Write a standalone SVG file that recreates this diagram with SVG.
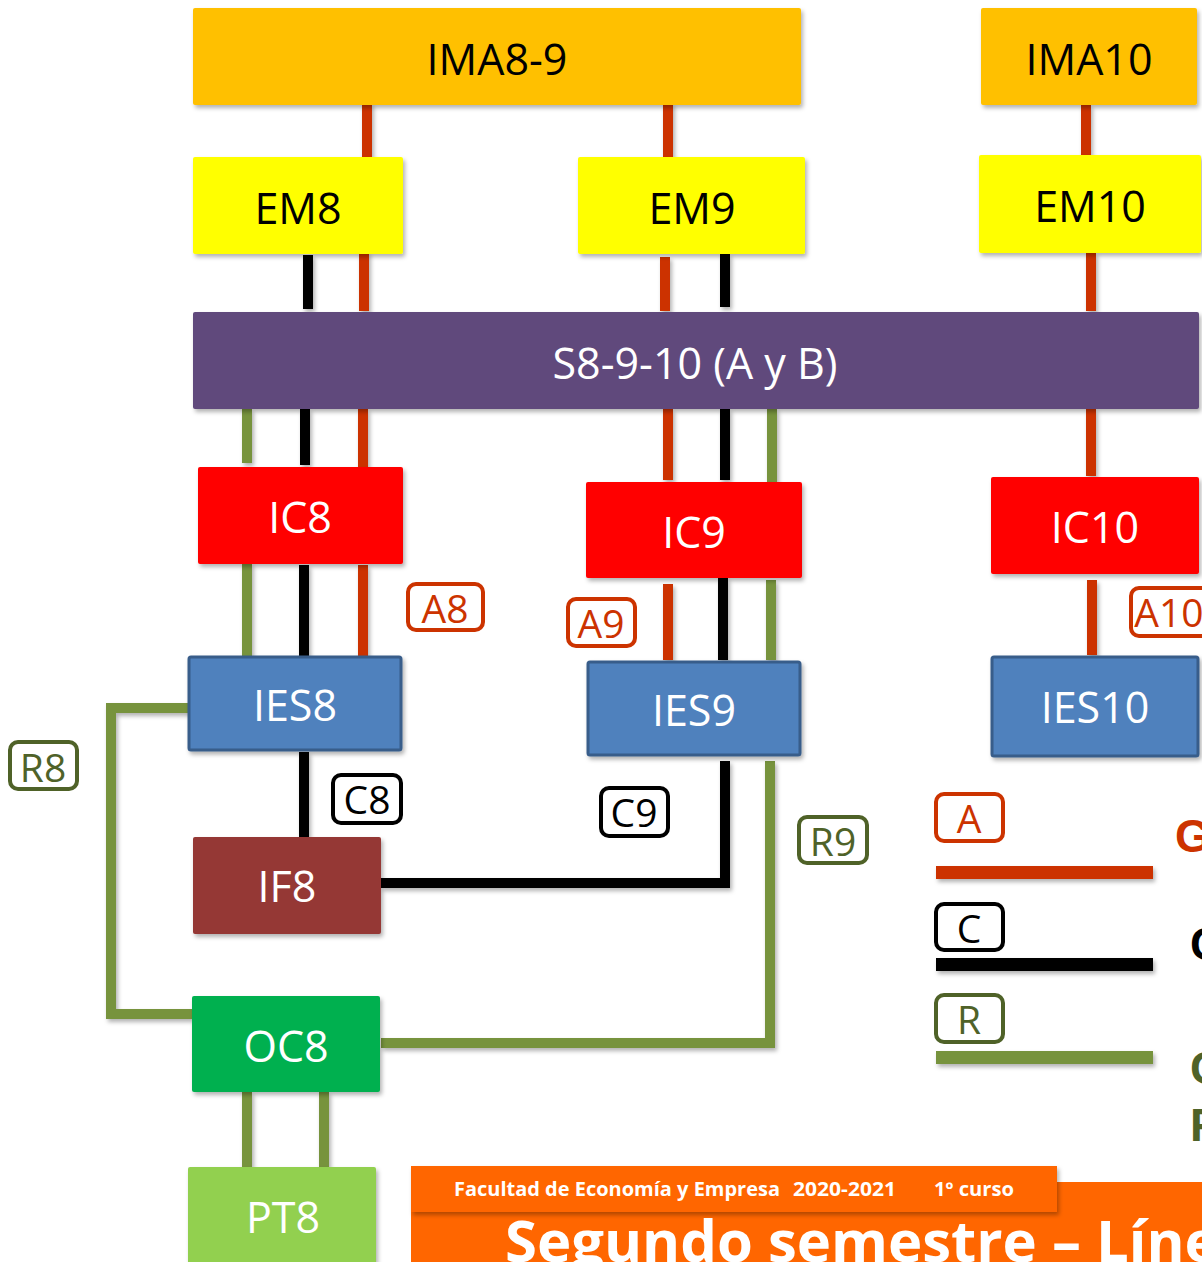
<svg xmlns="http://www.w3.org/2000/svg" width="1202" height="1262" viewBox="0 0 1202 1262">
<defs>
<filter id="sh" filterUnits="userSpaceOnUse" x="0" y="0" width="1202" height="1262">
<feDropShadow dx="2" dy="3" stdDeviation="2" flood-color="#000" flood-opacity="0.3"/>
</filter>
<style>
.box{filter:url(#sh)}
.t{font-family:"Open Sans","Liberation Sans",sans-serif;font-size:43px;text-anchor:middle;dominant-baseline:central}
.w{fill:#fff}
.k{fill:#000}
.ca{stroke:#CC3300;stroke-width:10;fill:none}
.cc{stroke:#000;stroke-width:10;fill:none}
.cr{stroke:#77933C;stroke-width:10;fill:none}
.lb{fill:#fff;stroke-width:4}
.lt{font-family:"Open Sans","Liberation Sans",sans-serif;font-size:39px;text-anchor:middle;dominant-baseline:central}
.big{font-family:"Liberation Sans",Arial,sans-serif;font-weight:bold;font-size:46px}
</style>
</defs>
<rect width="1202" height="1262" fill="#fff"/>

<g id="connectors" filter="url(#sh)">
<line class="ca" x1="367" y1="103" x2="367" y2="158"/>
<line class="ca" x1="668" y1="103" x2="668" y2="158"/>
<line class="ca" x1="1086" y1="105" x2="1086" y2="156"/>
<line class="ca" x1="364" y1="252" x2="364" y2="311"/>
<line class="ca" x1="665" y1="257" x2="665" y2="311"/>
<line class="ca" x1="1091" y1="253" x2="1091" y2="311"/>
<line class="ca" x1="363" y1="409" x2="363" y2="470"/>
<line class="ca" x1="668" y1="409" x2="668" y2="480"/>
<line class="ca" x1="1091" y1="409" x2="1091" y2="476"/>
<line class="ca" x1="363" y1="565" x2="363" y2="657"/>
<line class="ca" x1="668" y1="584" x2="668" y2="660"/>
<line class="ca" x1="1092" y1="580" x2="1092" y2="655"/>

<line class="cc" x1="308" y1="255" x2="308" y2="309"/>
<line class="cc" x1="725" y1="254" x2="725" y2="307"/>
<line class="cc" x1="305" y1="409" x2="305" y2="465"/>
<line class="cc" x1="725" y1="409" x2="725" y2="480"/>
<line class="cc" x1="304" y1="565" x2="304" y2="656"/>
<line class="cc" x1="723" y1="578" x2="723" y2="660"/>
<line class="cc" x1="304" y1="752" x2="304" y2="837"/>
<path class="cc" d="M381,883 H725 V761"/>

<line class="cr" x1="247" y1="409" x2="247" y2="463"/>
<line class="cr" x1="772" y1="409" x2="772" y2="483"/>
<line class="cr" x1="247" y1="563" x2="247" y2="657"/>
<line class="cr" x1="771" y1="580" x2="771" y2="660"/>
<path class="cr" d="M770,761 V1043 H381"/>
<path class="cr" d="M190,708 H111 V1014 H192"/>
<line class="cr" x1="247" y1="1092" x2="247" y2="1167"/>
<line class="cr" x1="324" y1="1092" x2="324" y2="1167"/>
</g>

<g id="IMA8-9"><rect class="box" x="193" y="8" width="608" height="97" rx="2" fill="#FFC000"/><text class="t k" x="497" y="58">IMA8-9</text></g>
<g id="IMA10"><rect class="box" x="981" y="8" width="216" height="97" rx="2" fill="#FFC000"/><text class="t k" x="1089" y="58">IMA10</text></g>
<g id="EM8"><rect class="box" x="193" y="157" width="210" height="97" rx="2" fill="#FFFF00"/><text class="t k" x="298" y="207">EM8</text></g>
<g id="EM9"><rect class="box" x="578" y="157" width="227" height="97" rx="2" fill="#FFFF00"/><text class="t k" x="692" y="207">EM9</text></g>
<g id="EM10"><rect class="box" x="979" y="155" width="222" height="98" rx="2" fill="#FFFF00"/><text class="t k" x="1090" y="205">EM10</text></g>

<g id="S8-9-10"><rect class="box" x="193" y="312" width="1006" height="97" rx="2" fill="#604A7B"/><text class="t w" x="695" y="362">S8-9-10 (A y B)</text></g>

<g id="IC8"><rect class="box" x="198" y="467" width="205" height="97" rx="2" fill="#FF0000"/><text class="t w" x="300" y="516">IC8</text></g>
<g id="IC9"><rect class="box" x="586" y="482" width="216" height="96" rx="2" fill="#FF0000"/><text class="t w" x="694" y="531">IC9</text></g>
<g id="IC10"><rect class="box" x="991" y="477" width="208" height="97" rx="2" fill="#FF0000"/><text class="t w" x="1095" y="526">IC10</text></g>

<g id="IES8"><rect class="box" x="189" y="657" width="212" height="93" rx="2" fill="#4F81BD" stroke="#385D8A" stroke-width="3"/><text class="t w" x="295" y="704">IES8</text></g>
<g id="IES9"><rect class="box" x="588" y="662" width="212" height="93" rx="2" fill="#4F81BD" stroke="#385D8A" stroke-width="3"/><text class="t w" x="694" y="709">IES9</text></g>
<g id="IES10"><rect class="box" x="992" y="657" width="206" height="99" rx="2" fill="#4F81BD" stroke="#385D8A" stroke-width="3"/><text class="t w" x="1095" y="706">IES10</text></g>

<g id="IF8"><rect class="box" x="193" y="837" width="188" height="97" rx="2" fill="#953735"/><text class="t w" x="287" y="885">IF8</text></g>
<g id="OC8"><rect class="box" x="192" y="996" width="188" height="96" rx="2" fill="#00B050"/><text class="t w" x="286" y="1045">OC8</text></g>
<g id="PT8"><rect class="box" x="188" y="1167" width="188" height="100" rx="2" fill="#92D050"/><text class="t w" x="283" y="1216">PT8</text></g>

<g id="label-A8"><rect class="lb" x="408" y="584" width="75" height="46" rx="8" stroke="#CC3300"/><text class="lt" x="445" y="607" fill="#CC3300">A8</text></g>
<g id="label-A9"><rect class="lb" x="568" y="599" width="67" height="47" rx="8" stroke="#CC3300"/><text class="lt" x="601" y="622" fill="#CC3300">A9</text></g>
<g id="label-A10"><rect class="lb" x="1131" y="588" width="80" height="48" rx="8" stroke="#CC3300"/><text class="lt" x="1169" y="611" fill="#CC3300">A10</text></g>
<g id="label-C8"><rect class="lb" x="333" y="775" width="68" height="48" rx="8" stroke="#000"/><text class="lt" x="367" y="798" fill="#000">C8</text></g>
<g id="label-C9"><rect class="lb" x="601" y="788" width="67" height="48" rx="8" stroke="#000"/><text class="lt" x="634" y="811" fill="#000">C9</text></g>
<g id="label-R8"><rect class="lb" x="10" y="742" width="67" height="47" rx="8" stroke="#4F6228"/><text class="lt" x="43" y="766" fill="#4F6228">R8</text></g>
<g id="label-R9"><rect class="lb" x="799" y="817" width="68" height="46" rx="8" stroke="#4F6228"/><text class="lt" x="833" y="840" fill="#4F6228">R9</text></g>

<g id="legend">
<rect class="lb" x="936" y="794" width="67" height="47" rx="8" stroke="#CC3300"/><text class="lt" x="969" y="817" fill="#CC3300">A</text>
<rect class="box" x="936" y="866" width="217" height="13" fill="#CC3300"/>
<rect class="lb" x="936" y="904" width="67" height="46" rx="8" stroke="#000"/><text class="lt" x="969" y="927" fill="#000">C</text>
<rect class="box" x="936" y="958" width="217" height="13" fill="#000"/>
<rect class="lb" x="936" y="995" width="67" height="47" rx="8" stroke="#4F6228"/><text class="lt" x="969" y="1018" fill="#4F6228">R</text>
<rect class="box" x="936" y="1051" width="217" height="13" fill="#77933C"/>
<text class="big" x="1175" y="852" fill="#CC3300">G</text>
<text class="big" x="1190" y="960" fill="#000">C</text>
<text class="big" x="1190" y="1084" fill="#4F6228">C</text>
<text class="big" x="1190" y="1141" fill="#4F6228">F</text>
</g>

<g id="banner">
<rect x="411" y="1182" width="791" height="80" fill="#FF6600"/>
<rect class="box" x="411" y="1166" width="646" height="46" fill="#FF6600"/>
<text font-family="'Open Sans','Liberation Sans',sans-serif" font-weight="bold" font-size="19" fill="#fff" y="1196"><tspan x="454" textLength="326" lengthAdjust="spacingAndGlyphs">Facultad de Economía y Empresa</tspan><tspan x="793" textLength="103" lengthAdjust="spacingAndGlyphs">2020-2021</tspan><tspan x="934" textLength="80" lengthAdjust="spacingAndGlyphs">1º curso</tspan></text>
<text font-family="'Open Sans','Liberation Sans',sans-serif" font-weight="bold" font-size="58" fill="#fff" x="505" y="1262">Segundo semestre – Líne</text>
</g>
</svg>
